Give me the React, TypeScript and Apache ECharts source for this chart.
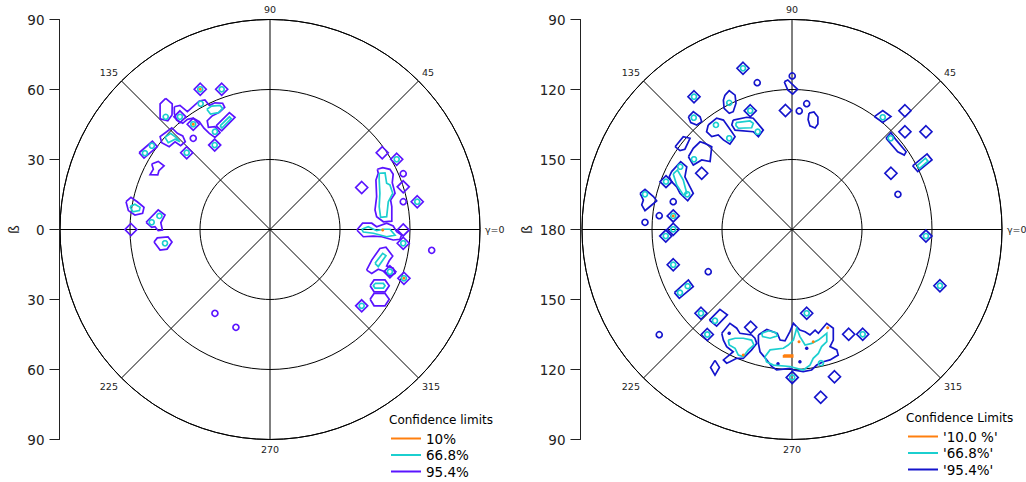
import React, { useEffect, useRef } from "react";
import * as echarts from "echarts";

// ---------- LEFT PANEL DATA (x, y in degrees, centre = 0,0) ----------
const L_NAMES = ["10%", "66.8%", "95.4%"];
const L_TICK_LABEL = (v: number) => String(Math.abs(v));

const L_DIAMONDS = [
  [-29.9, 60.1], [-20.7, 60.1], [-38.6, 48.3], [-32.9, 45.1], [-23.7, 36.2], [-35.7, 32.9],
  [-59.6, 0], [48.1, 32.9], [54.3, 30.1], [57.1, 18.3], [63.1, 11.9], [39.3, 18],
  [57.1, -0.2], [57.1, -5.9], [57.4, -20.9], [39.3, -32.7], [51.4, -18.1],
];
const L_RINGS = [[-32.9, 39.1], [-23.6, -35.9], [-14.6, -41.9], [57.1, 23.9], [57.1, 11.9], [69.3, -8.9]];
const L_CYAN_DOTS = [
  [-29.9, 60.1], [-20.7, 60.1], [-29.7, 53.9], [-44.7, 48.3], [-38.6, 48.3], [-32.9, 45.1],
  [-23.7, 36.2], [-35.7, 32.9], [-53.6, 32.7], [-50.6, 35.9], [-23.6, 41.9], [-50.7, 3.1],
  [-47.4, 5.8], [-45, -5.9], [54.3, 30.1], [63.1, 11.9], [57.1, -5.9], [57.4, -20.9],
  [51.4, -18.1], [39.3, -32.7],
];
const L_ORANGE_DOTS = [[-29.9, 60.1], [-32.9, 45.1], [48.3, -0.2], [57.4, -20.9]];
const L_ORANGE_POLYS: number[][][] = [];

const L_PURPLE_POLYS = [
  [[-44.7, 56.2], [-41.9, 53.8], [-42, 49.1], [-43.8, 46.6], [-47.1, 47.4], [-47.1, 53.8]],
  [[-41.0, 52.6], [-38.6, 53.2], [-35.4, 50.5], [-30.3, 55.1], [-27.9, 55.5], [-26.0, 53.2], [-23.6, 54.3],
   [-20.3, 54.1], [-19.4, 52.4], [-21.7, 50.2], [-24.9, 48.6], [-26.9, 46.6], [-26.4, 43.8], [-23.6, 44.1],
   [-21.4, 41.5], [-23.6, 39.5], [-26.0, 41.2], [-28.3, 43.4], [-30.3, 46.2], [-32.9, 47.7], [-35.4, 47.2],
   [-37.4, 45.5], [-40.0, 46.9], [-41.0, 49.8]],
  [[-23.1, 44.4], [-17.4, 50.1], [-15.0, 48.1], [-20.7, 42.3]],
  [[-44.3, 41.9], [-42.1, 43.6], [-39.7, 41.2], [-37.4, 40.1], [-36.3, 37.6], [-38.3, 35.9], [-40.7, 37.6],
   [-43.2, 35.5], [-46.4, 37.2], [-47.1, 39.8]],
  [[-56.1, 32.9], [-54.0, 30.6], [-48.3, 35.5], [-50.4, 37.8]],
  [[-50.7, 28.1], [-47.9, 29.2], [-45.4, 27.3], [-47.6, 25.2], [-48.1, 23.4], [-51.4, 23.5], [-50.0, 25.9]],
  [[-61.7, 11.9], [-59.6, 13.8], [-56.9, 11.9], [-54.0, 9.5], [-54.6, 6.9], [-57.9, 6.2], [-60.7, 8.1]],
  [[-53.1, 3.1], [-47.9, 8.4], [-45.0, 6.2], [-46.8, 2.9], [-46.1, -0.2], [-47.9, -0.5], [-49.3, 1.2], [-50.7, 0.9]],
  [[-49.7, -5.4], [-48.3, -3.6], [-43.7, -3.2], [-42.0, -5.4], [-44.1, -8.4], [-47.1, -8.8]],
  [[46.0, 25.8], [48.3, 26.5], [51.4, 25.8], [52.8, 23.7], [52.4, 20.1], [53.6, 15.5], [51.7, 12.6], [52.2, 9.8],
   [52.2, 3.6], [48.6, 3.3], [45.7, 5.5], [45.0, 8.4], [45.7, 14.1], [45.4, 21.2], [46.4, 24.1]],
  [[37.2, -0.2], [39.7, 2.7], [43.6, 2.7], [45.7, 1.2], [50.0, 2.7], [52.8, 1.5], [54.3, -0.9], [56.4, -2.4],
   [55.7, -4.2], [52.8, -4.5], [47.9, -3.1], [44.3, -2.8], [40.0, -3.1]],
  [[41.4, -17.4], [43.6, -13.1], [47.1, -8.1], [49.7, -7.6], [52.6, -11.4], [51.1, -13.4], [50.0, -15.6],
   [52.8, -16.6], [53.6, -18.8], [51.4, -19.9], [49.3, -18.1], [46.4, -17.0], [43.6, -18.8]],
  [[42.9, -24.1], [44.6, -21.6], [49.3, -21.6], [51.1, -24.1], [49.3, -26.7], [44.6, -26.7]],
  [[42.9, -29.9], [44.6, -27.4], [49.3, -27.4], [51.1, -29.9], [49.3, -32.7], [44.6, -32.7]],
];
const L_CYAN_POLYS = [
  [[-27.1, 51.5], [-25.0, 52.9], [-21.4, 53.2], [-20.3, 51.9], [-22.1, 50.1], [-25.5, 49.5]],
  [[-21.4, 44.4], [-17.4, 48.3], [-16.6, 47.5], [-20.6, 43.5]],
  [[-45.0, 39.5], [-42.6, 41.2], [-40.3, 39.5], [-38.6, 37.6], [-40.7, 38.7], [-43.6, 37.2]],
  [[-60.0, 9.8], [-57.9, 10.8], [-55.7, 9.5], [-56.0, 8.1], [-58.8, 7.6]],
  [[46.8, 24.1], [49.3, 24.3], [50.0, 19.8], [51.4, 19.1], [52.6, 15.5], [50.7, 11.9], [50.0, 5.5], [47.4, 5.2],
   [46.8, 9.8], [47.1, 15.5], [46.8, 21.2]],
  [[39.3, 0.1], [42.1, 1.2], [45.7, -0.5], [48.6, 0.1], [51.4, 0.1], [53.6, -2.4], [50.0, -3.1], [44.3, -1.6], [40.0, -1.1]],
  [[45.0, -14.5], [48.3, -10.2], [49.7, -11.2], [46.4, -15.9]],
  [[45.0, -23.1], [48.6, -23.1], [49.3, -24.1], [48.6, -25.1], [45.0, -25.1], [44.3, -24.1]],
];

// ---------- RIGHT PANEL DATA ----------
const R_NAMES = ["'10.0 %'", "'66.8%'", "'95.4%'"];
const R_TICK_LABEL = (v: number) => String(180 - Math.abs(v));

const R_DIAMONDS = [
  [-21.0, 69.1], [-2.8, 51.0], [48.4, 50.9], [48.4, 41.9], [57.4, 41.9], [42.4, 24.1], [57.4, -2.8],
  [-42.0, 56.9], [-17.9, 50.9], [-38.7, 24.1], [-50.9, 5.8], [-50.9, 0.1], [-54.1, -2.8], [-50.9, -15.1],
  [-39.0, -35.9], [-36.3, -45.0], [-17.7, -41.9], [0.1, -63.4], [6.3, -35.9], [18.2, -63.1], [24.3, -44.9],
  [30.3, -44.9], [12.3, -71.9], [63.4, -24.1], [-54.0, 20.5],
];
const R_RINGS = [
  [-14.9, 62.9], [0.1, 65.8], [3.1, 50.8], [6.3, 53.9], [45.4, 15.1], [-50.9, 11.9], [-56.9, 5.9],
  [-63.0, 3.1], [-35.9, -18.1], [-56.9, -45.1],
];
const R_CYAN_DOTS = [
  [-21.0, 69.1], [38.9, 48.1], [57.4, -2.8], [-42.0, 56.9], [-17.9, 50.9], [-50.9, 5.8], [-50.9, 0.1],
  [-54.1, -2.8], [-50.9, -15.1], [-39.0, -35.9], [-36.3, -45.0], [0.1, -63.4], [6.3, -35.9], [30.3, -44.9],
  [63.4, -24.1], [-42.1, 47.9], [-32.6, 44.8], [-26.9, 39.1], [-14.7, 41.9], [-42.0, 30.1], [-47.9, 26.9],
  [-54.0, 20.5], [-44.9, 15.1], [-63.0, 15.1], [-26.9, 54.3], [42.3, 39.1], [-48.0, -27.1], [-44.7, -24.3],
  [-33.0, -39.1], [12.4, -57.3],
];
const R_BLUE_DOTS = [[6.3, -50.9], [3.4, -56.7], [-26.9, -44.5], [-6.0, -57.5]];
const R_ORANGE_DOTS = [[-50.9, 5.8], [-20.9, -53.8], [3.0, -48.1], [9.1, -48.1], [15.3, -42.1]];
const R_ORANGE_POLYS = [[[-3.6, -53.8], [0.3, -53.8], [0.3, -54.6], [-3.6, -54.6]]];

const R_BLUE_POLYS = [
  [[-3.3, 63.3], [-1.8, 64.1], [2.4, 60.1], [0.3, 58.0], [-1.8, 59.8]],
  [[7.3, 49.9], [9.4, 50.4], [11.1, 48.2], [11.1, 45.2], [9.9, 43.5], [7.7, 44.4], [6.9, 47.1]],
  [[40.3, 39.1], [42.4, 41.5], [44.6, 38.4], [48.9, 33.3], [48.1, 31.9], [45.3, 33.3]],
  [[51.7, 27.3], [53.9, 24.8], [60.0, 29.8], [57.9, 32.4]],
  [[35.3, 48.4], [38.9, 51.0], [42.4, 48.4], [38.9, 45.9]],
  [[-28.7, 57.6], [-26.9, 59.5], [-24.4, 57.6], [-24.0, 54.1], [-25.2, 50.5], [-26.9, 49.8], [-29.1, 51.9], [-29.4, 55.5]],
  [[-44.4, 48.3], [-42.3, 50.5], [-39.4, 48.3], [-38.7, 46.2], [-40.8, 44.8], [-43.4, 45.8]],
  [[-35.9, 44.8], [-32.3, 47.7], [-29.4, 46.9], [-26.9, 43.4], [-24.4, 39.8], [-26.6, 36.6], [-29.4, 38.4],
   [-31.6, 40.5], [-34.4, 39.8], [-36.6, 41.9]],
  [[-25.2, 46.9], [-19.4, 48.1], [-16.6, 47.7], [-12.3, 42.6], [-14.4, 39.8], [-16.6, 41.9], [-24.4, 42.6], [-25.8, 44.8]],
  [[-50.1, 35.5], [-46.6, 39.8], [-43.7, 39.1], [-45.9, 34.4], [-48.0, 33.8]],
  [[-44.4, 31.2], [-42.3, 34.8], [-39.4, 37.6], [-37.3, 36.9], [-34.4, 35.5], [-35.1, 29.1], [-38.7, 29.8], [-42.3, 27.6]],
  [[-51.6, 24.8], [-47.7, 29.1], [-45.1, 26.9], [-45.9, 22.6], [-42.3, 15.5], [-44.7, 12.3], [-48.0, 15.5],
   [-49.4, 18.3], [-51.6, 20.5], [-52.6, 22.6]],
  [[-65.1, 15.5], [-63.0, 17.2], [-59.4, 14.1], [-58.0, 12.3], [-60.1, 10.5], [-63.0, 8.1], [-64.4, 10.5], [-63.7, 12.6]],
  [[-30.1, -44.5], [-26.6, -40.2], [-23.7, -42.3], [-22.3, -44.5], [-17.3, -45.2], [-15.9, -46.6], [-15.1, -48.8],
   [-17.3, -51.6], [-20.9, -55.2], [-23.7, -55.2], [-26.6, -56.7], [-28.0, -57.3], [-29.4, -55.9], [-26.9, -53.8],
   [-25.2, -52.4], [-28.0, -50.2], [-29.4, -47.4]],
  [[-14.4, -45.2], [-10.8, -42.8], [-6.3, -44.5], [-5.1, -47.4], [-3.0, -47.7], [-0.9, -43.8], [0.6, -40.2],
   [3.4, -43.1], [5.6, -43.8], [7.7, -45.2], [9.9, -43.1], [11.3, -44.5], [14.9, -40.2], [17.7, -42.3],
   [17.7, -47.4], [16.3, -50.2], [19.2, -51.6], [19.8, -53.8], [16.3, -55.9], [13.4, -56.7], [10.6, -58.1],
   [8.4, -60.2], [4.8, -60.9], [0.6, -60.2], [-0.9, -59.5], [-6.6, -60.2], [-8.7, -58.7], [-10.8, -55.9],
   [-13.7, -52.4], [-14.4, -48.8]],
  [[-33.0, -56.1], [-31.1, -59.1], [-33.0, -62.4], [-34.9, -59.1]],
  [[-50.4, -27.1], [-48.3, -29.5], [-42.3, -24.5], [-44.4, -21.6]],
  [[-35.4, -38.8], [-30.9, -34.2], [-27.7, -36.6], [-32.3, -41.4]],
];
const R_CYAN_POLYS = [
  [[53.6, 27.4], [54.6, 26.1], [58.3, 29.3], [57.2, 30.6]],
  [[-24.0, 45.8], [-18.0, 46.5], [-16.6, 45.5], [-17.3, 43.6], [-23.0, 43.4], [-24.0, 44.5]],
  [[-50.9, 23.8], [-49.1, 25.5], [-46.6, 21.2], [-45.1, 15.5], [-46.6, 14.8], [-49.4, 19.1]],
  [[-27.3, -47.4], [-24.4, -46.6], [-20.9, -46.6], [-17.3, -47.4], [-16.3, -49.5], [-18.7, -51.6], [-20.9, -54.5],
   [-23.0, -53.8], [-24.4, -50.9], [-26.9, -49.5]],
  [[-13.0, -44.5], [-9.9, -43.4], [-6.9, -44.2], [-6.3, -45.6], [-9.4, -46.6], [-12.6, -45.9]],
  [[-11.6, -54.5], [-9.4, -51.6], [-3.7, -50.9], [-1.6, -49.5], [0.6, -47.4], [2.0, -42.3], [3.4, -45.9],
   [5.6, -49.5], [8.4, -48.8], [11.3, -47.4], [14.9, -44.5], [14.9, -48.1], [12.7, -50.2], [11.3, -53.1],
   [9.1, -55.2], [7.7, -58.1], [4.8, -60.2], [-0.9, -58.7], [-8.0, -58.1], [-10.9, -56.7]],
];

const ANGLE_LABELS: Record<number, string> = {
  0: "γ=0", 45: "45", 90: "90", 135: "135", 225: "225", 270: "270", 315: "315",
};

const ORANGE = "#ff7f0e";
const CYAN = "#1bcfcf";
const L_PURPLE = "#5a14ff";
const R_BLUE = "#1414cc";
const FONT = "DejaVu Sans";

const close = (p: number[][]) => [...p, p[0]];

function panel(idx: number, names: string[], main: string, d: any) {
  const axisRef = { xAxisIndex: idx, yAxisIndex: idx, silent: true, animation: false };
  const polySeries = (name: string, color: string, polys: number[][][], z: number) => ({
    ...axisRef,
    type: "lines",
    name,
    coordinateSystem: "cartesian2d",
    polyline: true,
    z,
    color,
    lineStyle: { color, width: 1.7, opacity: 1 },
    data: polys.map((p) => ({ coords: close(p) })),
  });
  const dotSeries = (name: string, color: string, pts: number[][], symbol: string, size: number, z: number, fill = false) => ({
    ...axisRef,
    type: "scatter",
    name,
    symbol,
    symbolSize: size,
    z,
    itemStyle: { color: fill ? color : "rgba(0,0,0,0)", borderColor: color, borderWidth: fill ? 0 : 1.7, opacity: 1 },
    data: pts,
  });
  return [
    polySeries(names[2], main, d.mainPolys, 3),
    dotSeries(names[2], main, d.diamonds, "diamond", 12, 3),
    dotSeries(names[2], main, d.rings, "circle", 6, 3),
    dotSeries(names[2], main, d.blueDots || [], "circle", 3.5, 3, true),
    polySeries(names[1], CYAN, d.cyanPolys, 4),
    dotSeries(names[1], CYAN, d.cyanDots, "circle", 5, 4),
    polySeries(names[0], ORANGE, d.orangePolys, 5),
    dotSeries(names[0], ORANGE, d.orangeDots, "circle", 3, 5, true),
  ];
}

export default function App() {
  const ref = useRef<HTMLDivElement>(null);
  useEffect(() => {
    document.body.style.margin = "0";
    const chart = echarts.init(ref.current!, undefined, { renderer: "svg" });
    const centres = [[270, 229.5], [792, 229.5]];
    const polar = centres.map((c) => ({ center: c, radius: 210 }));
    const angleAxis = [0, 1].map((i) => ({
      polarIndex: i,
      type: "value",
      min: 0,
      max: 360,
      interval: 45,
      startAngle: 0,
      clockwise: false,
      axisLine: { show: true, lineStyle: { color: "#000", width: 1 } },
      axisTick: { show: false },
      splitLine: { show: true, lineStyle: { color: "#000", width: 1 } },
      axisLabel: {
        margin: 5,
        fontSize: 9.5,
        fontFamily: FONT,
        color: "#222",
        formatter: (v: number) => ANGLE_LABELS[v] ?? "",
      },
    }));
    const radiusAxis = [0, 1].map((i) => ({
      polarIndex: i,
      type: "value",
      min: 0,
      max: 90,
      interval: 30,
      axisLine: { show: false },
      axisTick: { show: false },
      axisLabel: { show: false },
      splitLine: { show: true, lineStyle: { color: "#000", width: 1 } },
    }));
    const grid = [
      { left: 60, top: 19.5, width: 420, height: 420 },
      { left: 582, top: 19.5, width: 420, height: 420 },
    ];
    const xAxis = [0, 1].map((i) => ({ gridIndex: i, type: "value", min: -90, max: 90, show: false }));
    const yAxis = [0, 1].map((i) => ({
      gridIndex: i,
      type: "value",
      position: "left",
      min: -90,
      max: 90,
      interval: 30,
      offset: i === 0 ? 0.5 : 1.5,
      name: "ß",
      nameLocation: "middle",
      nameRotate: 90,
      nameGap: i === 0 ? 39 : 47,
      nameTextStyle: { fontSize: 14, fontFamily: FONT, color: "#222" },
      axisLine: { show: true, onZero: false, lineStyle: { color: "#222", width: 1 } },
      axisTick: { show: true, inside: false, length: 10, lineStyle: { color: "#222" } },
      splitLine: { show: false },
      axisLabel: {
        margin: 15,
        fontSize: 13.5,
        fontFamily: FONT,
        color: "#222",
        formatter: i === 0 ? L_TICK_LABEL : R_TICK_LABEL,
      },
    }));
    const legendBase = {
      orient: "vertical",
      icon: "rect",
      itemWidth: 30,
      itemHeight: 2,
      itemGap: 2.5,
      padding: 0,
      selectedMode: false,
      textStyle: { fontSize: 13.5, fontFamily: FONT, color: "#000" },
    };
    const item = (name: string, color: string) => ({
      name,
      itemStyle: { color, borderWidth: 0, borderColor: color },
      lineStyle: { width: 0 },
    });
    const legend = [
      {
        ...legendBase,
        left: 391,
        top: 431.5,
        data: [item(L_NAMES[0], ORANGE), item(L_NAMES[1], CYAN), item(L_NAMES[2], L_PURPLE)],
      },
      {
        ...legendBase,
        left: 908,
        top: 429.5,
        data: [item(R_NAMES[0], ORANGE), item(R_NAMES[1], CYAN), item(R_NAMES[2], R_BLUE)],
      },
    ];
    const title = [
      { text: "Confidence limits", left: 389, top: 414, padding: 0, textStyle: { fontSize: 12, fontWeight: "normal", fontFamily: FONT, color: "#000" } },
      { text: "Confidence Limits", left: 906, top: 412, padding: 0, textStyle: { fontSize: 12, fontWeight: "normal", fontFamily: FONT, color: "#000" } },
    ];
    const series = [
      ...panel(0, L_NAMES, L_PURPLE, {
        mainPolys: L_PURPLE_POLYS, diamonds: L_DIAMONDS, rings: L_RINGS,
        cyanPolys: L_CYAN_POLYS, cyanDots: L_CYAN_DOTS, orangePolys: L_ORANGE_POLYS, orangeDots: L_ORANGE_DOTS,
      }),
      ...panel(1, R_NAMES, R_BLUE, {
        mainPolys: R_BLUE_POLYS, diamonds: R_DIAMONDS, rings: R_RINGS, blueDots: R_BLUE_DOTS,
        cyanPolys: R_CYAN_POLYS, cyanDots: R_CYAN_DOTS, orangePolys: R_ORANGE_POLYS, orangeDots: R_ORANGE_DOTS,
      }),
    ];
    chart.setOption({
      animation: false,
      backgroundColor: "#fff",
      textStyle: { fontFamily: FONT },
      title,
      legend,
      polar,
      angleAxis,
      radiusAxis,
      grid,
      xAxis,
      yAxis,
      series,
    });
    return () => chart.dispose();
  }, []);
  return <div ref={ref} style={{ width: 1026, height: 482 }} />;
}
